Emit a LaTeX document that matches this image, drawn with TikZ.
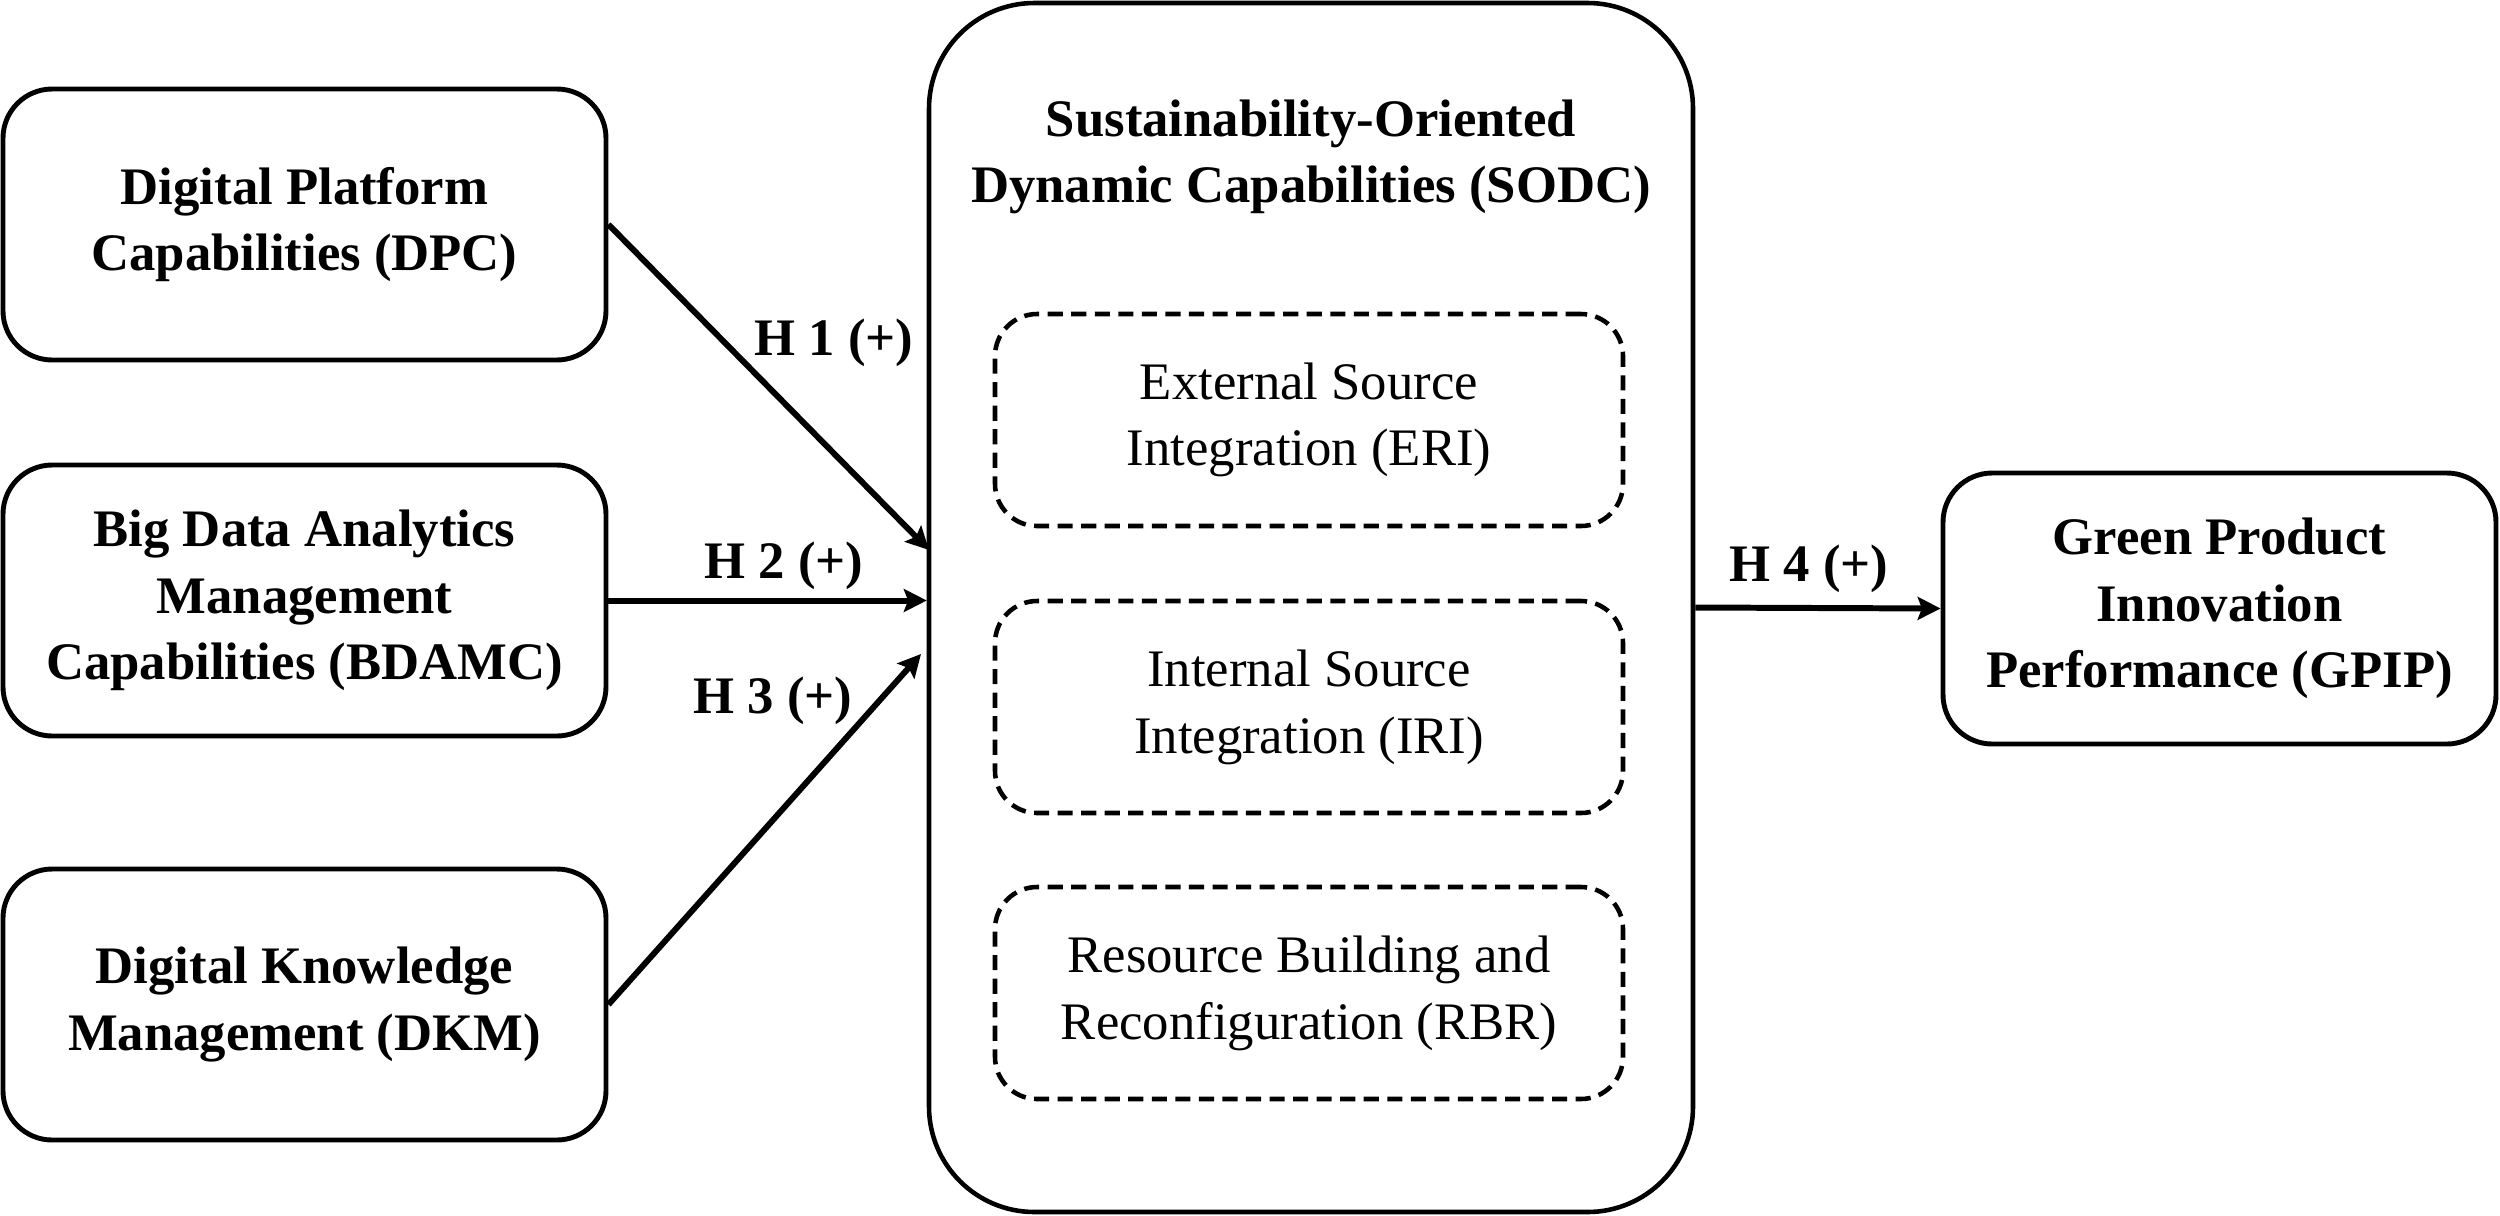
\documentclass[tikz,border=0pt]{standalone}
\usepackage{fontspec}
\setmainfont{Liberation Serif}
\usetikzlibrary{arrows.meta}
\begin{document}
\begin{tikzpicture}[every node/.style={font=\fontsize{15}{19}\selectfont,align=center},
  construct/.style={draw,line width=1.4pt,rounded corners=14pt,minimum width=6.03cm,minimum height=2.71cm,font=\fontsize{15}{19}\selectfont\bfseries},
  dimbox/.style={draw,line width=1.3pt,dash pattern=on 4.3pt off 2.4pt,rounded corners=12pt,minimum width=6.28cm,minimum height=2.12cm},
  hyp/.style={line width=1.7pt,-{Stealth[length=6.5pt,width=6.5pt,inset=1.2pt]}},
  hlabel/.style={font=\fontsize{15}{19}\selectfont\bfseries}]
\useasboundingbox (0,0) rectangle (25,-12.15);
% antecedents
\node[construct] (dpc) at (3.045,-2.245) {Digital Platform\\Capabilities (DPC)};
\node[construct] (bdamc) at (3.045,-6.005) {Big Data Analytics\\Management\\Capabilities (BDAMC)};
\node[construct] (dkm) at (3.045,-10.045) {Digital Knowledge\\Management (DKM)};
% mediator with its dimensions
\node[draw,line width=1.3pt,rounded corners=30pt,minimum width=7.64cm,minimum height=12.09cm] (sodc) at (13.11,-6.075) {};
\node[hlabel] (sodct) at (13.11,-1.57) {Sustainability-Oriented\\Dynamic Capabilities (SODC)};
\node[dimbox] (eri) at (13.09,-4.2) {External Source\\Integration (ERI)};
\node[dimbox] (iri) at (13.09,-7.07) {Internal Source\\Integration (IRI)};
\node[dimbox] (rbr) at (13.09,-9.93) {Resource Building and\\Reconfiguration (RBR)};
% outcome
\node[construct,minimum width=5.53cm] (gpip) at (22.195,-6.085) {Green Product\\Innovation\\Performance (GPIP)};
% hypotheses
\coordinate (h1end) at (9.29,-5.5);
\coordinate (h3end) at (9.21,-6.54);
\draw[hyp] (dpc.east) -- (h1end);
\draw[hyp] (bdamc.east) -- (bdamc.east -| sodc.west);
\draw[hyp] (dkm.east) -- (h3end);
\draw[hyp] (sodc.east) -- (gpip.west);
\node[hlabel] (h1) at (8.34,-3.43) {H 1 (+)};
\node[hlabel] (h2) at (7.84,-5.66) {H 2 (+)};
\node[hlabel] (h3) at (7.73,-7.01) {H 3 (+)};
\node[hlabel] (h4) at (18.09,-5.69) {H 4 (+)};
\end{tikzpicture}
\end{document}
